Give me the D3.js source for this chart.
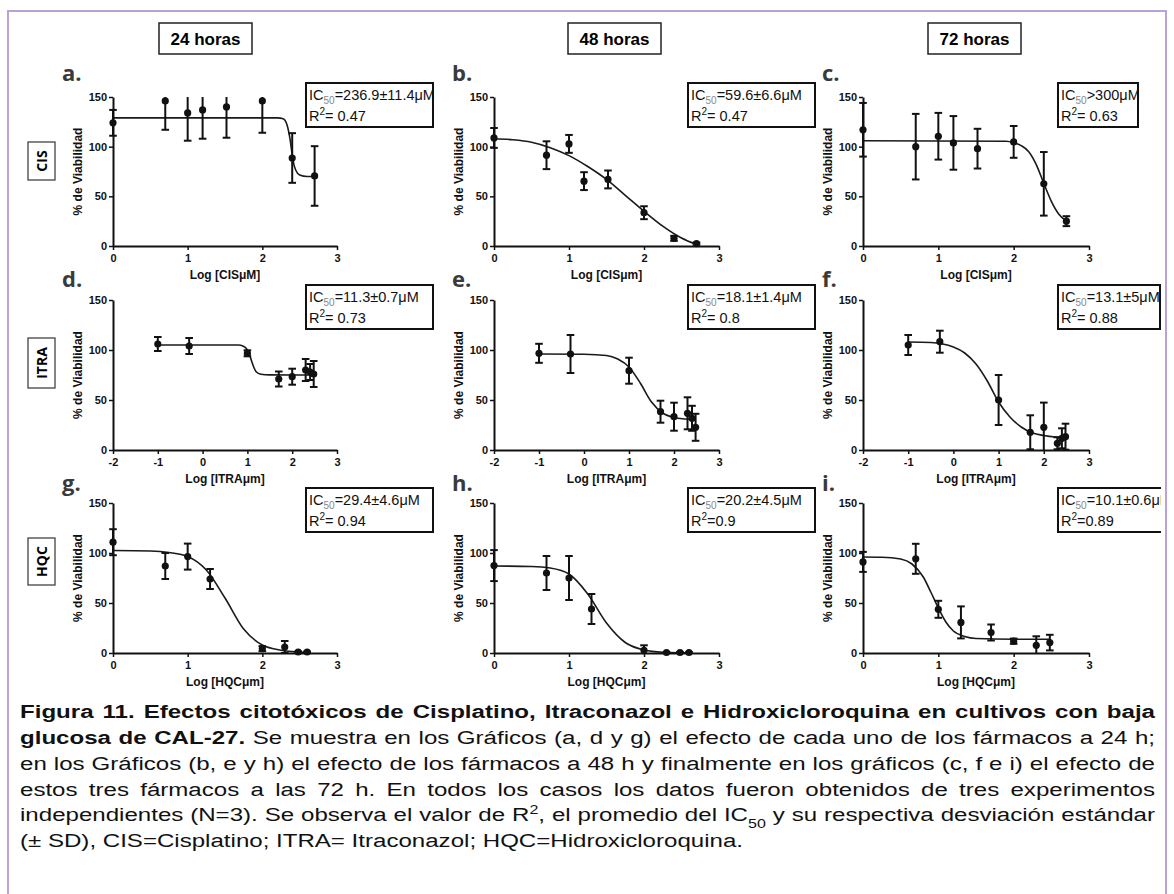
<!DOCTYPE html>
<html>
<head>
<meta charset="utf-8">
<script src="https://cdn.jsdelivr.net/npm/d3@7"></script>
<style>
  body { margin: 0; background: #fff; }
</style>
</head>
<body>
<script>
// ---- labels ----
var hours = ["24 horas", "48 horas", "72 horas"];
var drugs = ["CIS", "ITRA", "HQC"];
var letters = ["a.", "b.", "c.", "d.", "e.", "f.", "g.", "h.", "i."];
var xTitles = ["Log [CISμM]", "Log [CISμm]", "Log [CISμm]",
               "Log [ITRAμm]", "Log [ITRAμm]", "Log [ITRAμm]",
               "Log [HQCμm]", "Log [HQCμm]", "Log [HQCμm]"];
var icLabels = ["=236.9±11.4μM", "=59.6±6.6μM", ">300μM",
                "=11.3±0.7μM", "=18.1±1.4μM", "=13.1±5μM",
                "=29.4±4.6μM", "=20.2±4.5μM", "=10.1±0.6μM"];
var r2Labels = ["= 0.47", "= 0.47", "= 0.63",
                "= 0.73", "= 0.8", "= 0.88",
                "= 0.94", "=0.9", "=0.89"];
var yTicks = [0, 50, 100, 150];
var xTicksLog = [0, 1, 2, 3];
var xTicksItra = [-2, -1, 0, 1, 2, 3];

// ---- data: [log concentration, % viabilidad, SD] ----
var cis24 = [[0,124,13],[0.7,146,29],[1,134,28],[1.2,137,29],[1.52,140,31],[2,146,32],[2.4,88.6,25],[2.7,70.5,30]];
var cis48 = [[0,108.8,10],[0.7,91.4,14],[1,102.8,9],[1.2,65.3,9],[1.52,67,9],[2,33.5,6.5],[2.4,7.7,2.5],[2.7,2.4,1]];
var cis72 = [[0,117,27],[0.7,100,33],[1,110.5,23.5],[1.2,103.8,27],[1.52,98,20],[2,104.8,16],[2.4,62.6,32],[2.7,25,5]];
var itra24 = [[-1,106,7],[-0.3,104,8],[1,96.7,3],[1.7,71,7.5],[2,73.3,8],[2.3,80,11],[2.4,78,8],[2.48,76,13]];
var itra48 = [[-1,96.7,9.5],[-0.3,96,19],[1,79.3,13],[1.7,38.3,11],[2,33.3,14],[2.3,36.7,16],[2.4,31.7,12.5],[2.48,22.7,13.5]];
var itra72 = [[-1,105,10],[-0.3,108.3,11],[1,50,25],[1.7,17.7,17],[2,22.7,24.7],[2.3,6.7,6],[2.4,11.7,10],[2.48,13.3,13]];
var hqc24 = [[0,110.8,13],[0.7,87,13],[1,96.4,13],[1.3,74,10],[2,4.4,2.5],[2.3,6,6],[2.48,1,0.5],[2.6,1,0.5]];
var hqc48 = [[0,87.4,15.5],[0.7,80,17],[1,75,22],[1.3,44,15],[2,2.7,5],[2.3,0.5,0.5],[2.48,0.5,0.5],[2.6,0.5,0.5]];
var hqc72 = [[0,91.1,10],[0.7,94.2,15],[1,43.7,8.5],[1.3,30.6,16],[1.7,20.5,8],[2,11.8,2.6],[2.3,7.7,9],[2.48,10.4,7.8]];

// fitted curves: [log concentration, % viabilidad]
var cis24Fit = [[0,129],[2.2,129],[2.28,128],[2.33,122],[2.37,108],[2.4,92],[2.42,83],[2.45,76],[2.5,71.5],[2.6,70],[2.7,70]];
var cis48Fit = [[0,108],[0.25,107],[0.5,104.5],[0.75,99],[1,91],[1.25,80],[1.5,67],[1.75,51],[2,35],[2.25,20],[2.5,8],[2.7,1.5]];
var cis72Fit = [[0,106],[1.9,105.5],[2,104],[2.1,101],[2.2,95],[2.3,82],[2.4,63],[2.5,45],[2.6,32],[2.7,25]];
var itra24Fit = [[-1,105],[0.8,105],[0.9,104],[1,100],[1.05,95],[1.1,88],[1.15,82],[1.2,78],[1.3,75.8],[1.5,75.1],[2.48,75]];
var itra48Fit = [[-1,96],[0,95.7],[0.5,94.5],[0.75,91],[1,83],[1.25,67],[1.5,48],[1.75,37],[2,32.5],[2.25,31],[2.48,30.3]];
var itra72Fit = [[-1,108],[-0.5,107.5],[0,103],[0.25,97],[0.5,86],[0.75,69],[1,48],[1.25,33],[1.5,23],[1.75,17],[2,14.5],[2.25,13],[2.48,12.5]];
var hqc24Fit = [[0,102.5],[0.5,102],[0.75,100.5],[1,96.5],[1.25,83],[1.5,55],[1.75,24],[2,8],[2.25,2.8],[2.6,0.5]];
var hqc48Fit = [[0,87],[0.5,86.5],[0.75,85],[1,79],[1.25,59],[1.5,30],[1.75,10.5],[2,3],[2.25,0.8],[2.6,0.2]];
var hqc72Fit = [[0,96],[0.25,95.8],[0.5,94],[0.65,89],[0.8,76],[0.9,61],[1,45],[1.1,31],[1.2,22],[1.35,16.5],[1.5,14.5],[2,13.8],[2.48,13.8]];

var pointSets = [cis24, cis48, cis72, itra24, itra48, itra72, hqc24, hqc48, hqc72];
var fitSets = [cis24Fit, cis48Fit, cis72Fit, itra24Fit, itra48Fit, itra72Fit, hqc24Fit, hqc48Fit, hqc72Fit];

// caption
var captionLines = [
  [{t: "Figura 11. Efectos citotóxicos de Cisplatino, Itraconazol e Hidroxicloroquina en cultivos con baja", b: true}],
  [{t: "glucosa de CAL-27.", b: true}, {t: " Se muestra en los Gráficos (a, d y g) el efecto de cada uno de los fármacos a 24 h;"}],
  [{t: "en los Gráficos (b, e y h) el efecto de los fármacos a 48 h y finalmente en los gráficos (c, f e i) el efecto de"}],
  [{t: "estos tres fármacos a las 72 h. En todos los casos los datos fueron obtenidos de tres experimentos"}],
  [{t: "independientes (N=3). Se observa el valor de R"}, {t: "2", sup: true}, {t: ", el promedio del IC"}, {t: "50", sub: true}, {t: " y su respectiva desviación estándar"}],
  [{t: "(± SD), CIS=Cisplatino; ITRA= Itraconazol; HQC=Hidroxicloroquina."}]
];

// ---- layout ----
var width = 1174, height = 894;
var axisLeft = [113, 494, 863],
    axisRight = [337, 719, 1089],
    yTop = [97, 300, 503],
    yBottom = [246, 450, 653];
var headerX = [159, 568, 928];
var letterX = [62, 452, 822], letterY = [81, 287, 491];
var boxX = [306, 688, 1058];
var boxW = [127, 127, 80, 127, 127, 102, 127, 127, 125];
var boxTop = [83, 285, 488];
var drugBoxY = [142, 338, 538], drugBoxH = [38, 50, 47];

var svg = d3.select("body").append("svg")
  .attr("width", width)
  .attr("height", height)
  .style("font-family", "'Liberation Sans', Arial, sans-serif");

svg.append("rect").attr("width", width).attr("height", height).attr("fill", "#fff");

// frame (bottom edge runs past the picture)
svg.append("rect")
  .attr("x", 8).attr("y", 11)
  .attr("width", 1158).attr("height", 900)
  .attr("fill", "none")
  .attr("stroke", "#b8a2d8")
  .attr("stroke-width", 2);

svg.append("defs").append("clipPath").attr("id", "rightclip")
  .append("rect").attr("x", 0).attr("y", 0).attr("width", 1161).attr("height", height);

// column headers
hours.forEach(function(h, i) {
  svg.append("rect")
    .attr("x", headerX[i]).attr("y", 23)
    .attr("width", 93).attr("height", 31)
    .attr("fill", "#fff").attr("stroke", "#222").attr("stroke-width", 1.5);
  svg.append("text")
    .attr("x", headerX[i] + 46.5).attr("y", 45)
    .attr("text-anchor", "middle")
    .style("font-weight", "bold").style("font-size", "17px")
    .text(h);
});

// row labels
drugs.forEach(function(d, i) {
  svg.append("rect")
    .attr("x", 28).attr("y", drugBoxY[i])
    .attr("width", 27).attr("height", drugBoxH[i])
    .attr("fill", "#fff").attr("stroke", "#444").attr("stroke-width", 1.3);
  svg.append("text")
    .attr("transform", "translate(42," + (drugBoxY[i] + drugBoxH[i] / 2) + ") rotate(-90)")
    .attr("text-anchor", "middle").attr("dy", "0.36em")
    .style("font-family", "'Open Sans', sans-serif")
    .style("font-weight", "bold").style("font-size", "14px")
    .text(d);
});

pointSets.forEach(function(pts, k) {
  var row = Math.floor(k / 3), col = k % 3;
  var x = d3.scaleLinear()
    .domain(row == 1 ? [-2, 3] : [0, 3])
    .range([axisLeft[col], axisRight[col]]);
  var y = d3.scaleLinear().domain([0, 150]).range([yBottom[row], yTop[row]]);
  var g = svg.append("g");

  // panel letter
  g.append("text")
    .attr("x", letterX[col]).attr("y", letterY[row])
    .style("font-family", "'Open Sans', sans-serif")
    .style("font-weight", "bold").style("font-size", "22px")
    .attr("fill", "#3a3a3a")
    .text(letters[k]);

  // fitted curve
  g.append("path")
    .datum(fitSets[k])
    .attr("fill", "none")
    .attr("stroke", "#1a1a1a")
    .attr("stroke-width", 1.6)
    .attr("d", d3.line()
      .x(function(d) { return x(d[0]); })
      .y(function(d) { return y(d[1]); })
      .curve(d3.curveMonotoneX));

  // error bars (clipped to the axis range, no cap where clipped)
  pts.forEach(function(p) {
    var lo = p[1] - p[2], hi = p[1] + p[2];
    var loC = Math.max(0, lo), hiC = Math.min(150, hi);
    g.append("line")
      .attr("x1", x(p[0])).attr("x2", x(p[0]))
      .attr("y1", y(loC)).attr("y2", y(hiC))
      .attr("stroke", "#111").attr("stroke-width", 2);
    if (hi <= 150) {
      g.append("line")
        .attr("x1", x(p[0]) - 3.8).attr("x2", x(p[0]) + 3.8)
        .attr("y1", y(hi)).attr("y2", y(hi))
        .attr("stroke", "#111").attr("stroke-width", 2);
    }
    if (lo >= 0) {
      g.append("line")
        .attr("x1", x(p[0]) - 3.8).attr("x2", x(p[0]) + 3.8)
        .attr("y1", y(lo)).attr("y2", y(lo))
        .attr("stroke", "#111").attr("stroke-width", 2);
    }
  });

  g.selectAll("circle")
    .data(pts)
    .enter().append("circle")
    .attr("r", 3.6)
    .attr("cx", function(d) { return x(d[0]); })
    .attr("cy", function(d) { return y(d[1]); })
    .attr("fill", "#111");

  // axes
  var ya = g.append("g")
    .attr("transform", "translate(" + axisLeft[col] + ",0)")
    .call(d3.axisLeft(y).tickValues(yTicks).tickSize(4).tickSizeOuter(0).tickPadding(2));
  var xa = g.append("g")
    .attr("transform", "translate(0," + yBottom[row] + ")")
    .call(d3.axisBottom(x).tickValues(row == 1 ? xTicksItra : xTicksLog)
      .tickSize(4).tickSizeOuter(0).tickPadding(4)
      .tickFormat(function(d) { return String(d); }));
  [ya, xa].forEach(function(a) {
    a.select(".domain").attr("stroke", "#111").attr("stroke-width", 2);
    a.selectAll(".tick line").attr("stroke", "#111").attr("stroke-width", 1.5);
    a.selectAll(".tick text")
      .attr("fill", "#111")
      .style("font-family", "'Liberation Sans', Arial, sans-serif")
      .style("font-weight", "bold").style("font-size", "11px");
  });

  // axis titles
  g.append("text")
    .attr("x", (axisLeft[col] + axisRight[col]) / 2)
    .attr("y", yBottom[row] + 33)
    .attr("text-anchor", "middle")
    .style("font-weight", "bold").style("font-size", "12px")
    .attr("fill", "#111")
    .text(xTitles[k]);
  g.append("text")
    .attr("transform", "translate(" + (axisLeft[col] - 35) + "," + ((yTop[row] + yBottom[row]) / 2) + ") rotate(-90)")
    .attr("text-anchor", "middle").attr("dy", "0.36em")
    .style("font-weight", "bold").style("font-size", "12px")
    .attr("fill", "#111")
    .text("% de Viabilidad");

  // IC50 / R2 box
  var bx = boxX[col], by = boxTop[row];
  var box = svg.append("g").attr("clip-path", "url(#rightclip)");
  box.append("rect")
    .attr("x", bx).attr("y", by)
    .attr("width", boxW[k]).attr("height", 44)
    .attr("fill", "#fff").attr("stroke", "#111").attr("stroke-width", 2);
  var t1 = box.append("text")
    .attr("x", bx + 3).attr("y", by + 17)
    .style("font-size", "14.5px").attr("fill", "#111");
  t1.append("tspan").text("IC");
  t1.append("tspan").attr("dy", 4).style("font-size", "10px").attr("fill", "#888").text("50");
  t1.append("tspan").attr("dy", -4).text(icLabels[k]);
  var t2 = box.append("text")
    .attr("x", bx + 3).attr("y", by + 38)
    .style("font-size", "14.5px").attr("fill", "#111");
  t2.append("tspan").text("R");
  t2.append("tspan").attr("dy", -6).style("font-size", "10px").text("2");
  t2.append("tspan").attr("dy", 6).text(r2Labels[k]);
});

// caption: glyphs slightly wider than tall, lines justified between the margins
var capLeft = 20, capRight = 1155;
var capG = svg.append("g");
var capTexts = captionLines.map(function(parts, i) {
  var t = capG.append("text")
    .attr("x", 0)
    .attr("y", 718.5 + i * 25.7)
    .style("font-size", "18.8px")
    .attr("fill", "#111");
  parts.forEach(function(p) {
    var s = t.append("tspan").text(p.t);
    if (p.b) s.style("font-weight", "bold");
    if (p.sup) s.attr("baseline-shift", "super").style("font-size", "12.5px");
    if (p.sub) s.attr("baseline-shift", "sub").style("font-size", "12.5px");
  });
  return t;
});
var widest = d3.max(capTexts.slice(0, 5), function(t) { return t.node().getComputedTextLength(); });
var sx = (capRight - capLeft - 4) / widest;
capG.attr("transform", "translate(" + capLeft + ",0) scale(" + sx + ",1)");
capTexts.forEach(function(t, i) {
  if (i == capTexts.length - 1) return;
  var full = captionLines[i].map(function(p) { return p.t; }).join("");
  var spaces = full.split(" ").length - 1;
  var natural = t.node().getComputedTextLength();
  t.attr("word-spacing", ((capRight - capLeft) / sx - natural) / spaces);
});
</script>
</body>
</html>
